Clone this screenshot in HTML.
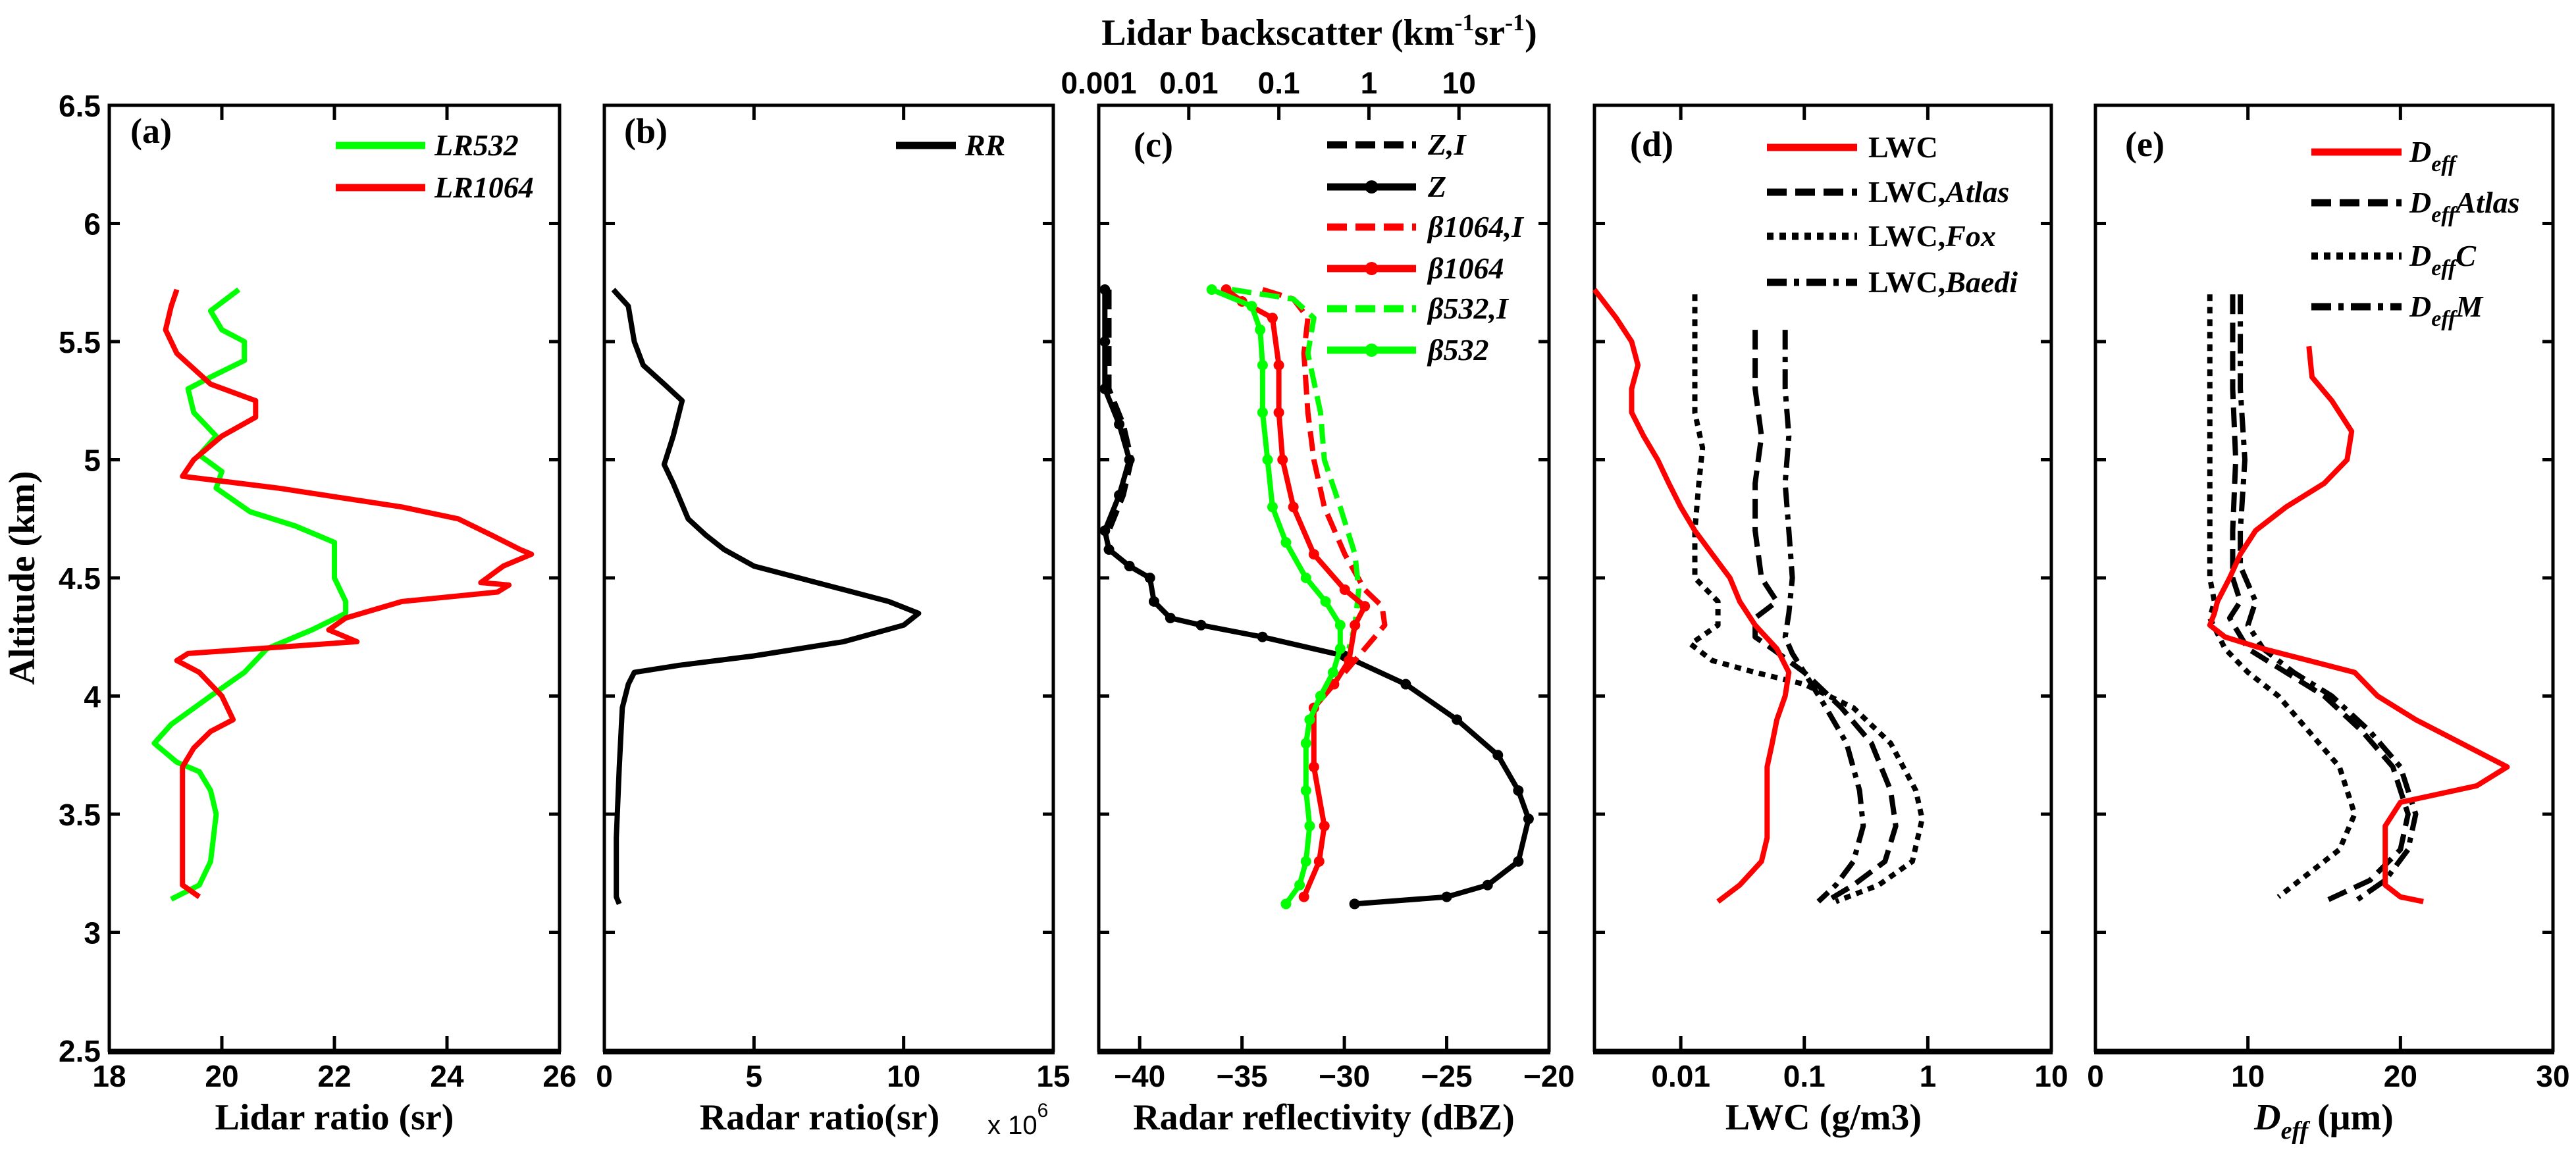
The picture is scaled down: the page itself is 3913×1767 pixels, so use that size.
<!DOCTYPE html>
<html><head><meta charset="utf-8">
<style>
html,body{margin:0;padding:0;background:#fff;}
svg{display:block;}
.tk{font-family:"Liberation Sans Narrow","Liberation Sans",sans-serif;font-weight:bold;font-size:46px;}
.ttl{font-family:"Liberation Serif",serif;font-weight:bold;font-size:56px;}
.lg{font-family:"Liberation Serif",serif;font-weight:bold;font-style:italic;font-size:46px;}
.lgn{font-family:"Liberation Serif",serif;font-weight:bold;font-size:46px;}
.pl{font-family:"Liberation Serif",serif;font-weight:bold;font-size:54px;}
</style></head>
<body>
<svg id="fig" width="3913" height="1767" viewBox="0 0 3913 1767" xmlns="http://www.w3.org/2000/svg"></svg>
<script>
// ---- data (altitude km) ----
const altA532=[5.72,5.63,5.55,5.5,5.42,5.35,5.3,5.2,5.1,5.02,4.95,4.88,4.78,4.72,4.65,4.5,4.4,4.35,4.28,4.2,4.1,4.0,3.88,3.8,3.72,3.68,3.6,3.5,3.3,3.2,3.14];
const lr532=[20.3,19.8,20.0,20.4,20.4,19.8,19.4,19.5,19.9,19.6,20.0,19.9,20.5,21.3,22.0,22.0,22.2,22.2,21.6,20.8,20.4,19.8,19.1,18.8,19.2,19.6,19.8,19.9,19.8,19.6,19.1];
const altA1064=[5.72,5.65,5.55,5.45,5.32,5.25,5.18,5.1,5.0,4.93,4.88,4.8,4.75,4.68,4.62,4.6,4.55,4.48,4.47,4.44,4.4,4.33,4.28,4.23,4.2,4.18,4.15,4.1,4.0,3.9,3.85,3.78,3.7,3.6,3.4,3.25,3.2,3.15];
const lr1064=[19.2,19.1,19.0,19.2,19.8,20.6,20.6,20.0,19.5,19.3,21.0,23.2,24.2,24.8,25.3,25.5,25.0,24.6,25.1,24.9,23.2,22.2,21.9,22.4,20.6,19.4,19.2,19.6,20.0,20.2,19.8,19.5,19.3,19.3,19.3,19.3,19.3,19.6];
const altRR=[5.72,5.65,5.5,5.4,5.32,5.25,5.1,4.98,4.9,4.75,4.68,4.62,4.55,4.5,4.45,4.4,4.35,4.3,4.23,4.17,4.13,4.1,4.05,3.95,3.7,3.4,3.15,3.12];
const rr=[0.3,0.8,1.0,1.3,2.0,2.6,2.3,2.0,2.3,2.8,3.4,4.0,5.0,6.5,8.0,9.5,10.5,10.0,8.0,5.0,2.5,1.0,0.8,0.6,0.5,0.4,0.4,0.5];
const altZ=[5.72,5.5,5.3,5.15,5.0,4.85,4.7,4.62,4.55,4.5,4.4,4.33,4.3,4.25,4.17,4.05,3.9,3.75,3.6,3.48,3.3,3.2,3.15,3.12];
const zdbz=[-41.7,-41.7,-41.7,-41,-40.5,-41,-41.7,-41.5,-40.5,-39.5,-39.3,-38.5,-37,-34,-30,-27,-24.5,-22.5,-21.5,-21,-21.5,-23,-25,-29.5];
const altZI=[5.72,5.5,5.3,5.15,5.0,4.85,4.7];
const zIdbz=[-41.5,-41.5,-41.5,-40.8,-40.4,-40.8,-41.5];
const altB532=[5.72,5.65,5.55,5.4,5.2,5.0,4.8,4.65,4.5,4.4,4.3,4.2,4.1,4.0,3.9,3.8,3.6,3.45,3.3,3.2,3.12];
const b532=[0.018,0.05,0.062,0.066,0.066,0.075,0.085,0.12,0.2,0.33,0.48,0.48,0.40,0.29,0.22,0.2,0.2,0.22,0.2,0.17,0.12];
const altB1064=[5.72,5.67,5.6,5.4,5.2,5.0,4.8,4.6,4.45,4.38,4.3,4.15,4.05,3.95,3.7,3.45,3.3,3.15];
const b1064=[0.026,0.039,0.085,0.1,0.1,0.11,0.145,0.245,0.54,0.9,0.7,0.6,0.41,0.245,0.245,0.32,0.28,0.19];
const altB1064I=[5.72,5.68,5.6,5.45,5.2,5.0,4.8,4.6,4.45,4.38,4.3,4.2,4.1];
const b1064I=[0.066,0.145,0.21,0.19,0.21,0.245,0.32,0.54,0.9,1.4,1.5,0.9,0.54];
const altB532I=[5.72,5.68,5.6,5.45,5.2,5.0,4.8,4.6,4.45,4.3,4.2];
const b532I=[0.03,0.145,0.245,0.21,0.29,0.32,0.48,0.7,0.77,0.7,0.6];
const altLWC=[5.72,5.6,5.5,5.4,5.3,5.2,5.1,5.0,4.9,4.8,4.7,4.6,4.5,4.4,4.3,4.2,4.1,4.0,3.9,3.8,3.7,3.6,3.5,3.4,3.3,3.2,3.13];
const lwc=[0.002,0.003,0.004,0.0045,0.004,0.004,0.005,0.0065,0.008,0.01,0.013,0.018,0.025,0.03,0.04,0.06,0.075,0.07,0.06,0.055,0.05,0.05,0.05,0.05,0.045,0.03,0.02];
const altFox=[5.7,5.4,5.2,5.05,4.9,4.7,4.5,4.4,4.3,4.22,4.15,4.1,4.05,3.95,3.8,3.6,3.48,3.3,3.2,3.13];
const lwcFox=[0.013,0.013,0.013,0.015,0.014,0.013,0.013,0.02,0.02,0.012,0.018,0.04,0.1,0.25,0.5,0.8,0.9,0.75,0.4,0.18];
const altAtlas=[5.55,5.3,5.1,4.9,4.7,4.5,4.4,4.33,4.25,4.2,4.1,3.95,3.8,3.6,3.45,3.3,3.2,3.13];
const lwcAtlas=[0.04,0.04,0.045,0.04,0.04,0.045,0.06,0.04,0.04,0.055,0.1,0.2,0.35,0.5,0.55,0.45,0.25,0.15];
const altBaedi=[5.55,5.3,5.1,4.9,4.7,4.5,4.35,4.25,4.18,4.1,3.95,3.8,3.6,3.45,3.3,3.2,3.13];
const lwcBaedi=[0.07,0.07,0.075,0.07,0.075,0.08,0.075,0.07,0.08,0.1,0.15,0.22,0.28,0.3,0.25,0.18,0.13];
const altDeff=[5.48,5.35,5.25,5.12,5.0,4.9,4.8,4.7,4.6,4.5,4.4,4.35,4.3,4.25,4.2,4.15,4.1,4.0,3.9,3.8,3.7,3.62,3.55,3.45,3.3,3.2,3.15,3.13];
const deff=[14,14.2,15.5,16.8,16.5,15,12.5,10.5,9.5,8.8,8,7.8,7.5,8.5,11,14,17,18.5,21,24,27,25,20,19,19,19,20,21.5];
const altDC=[5.7,5.3,5.0,4.7,4.5,4.4,4.33,4.2,4.1,4.0,3.85,3.7,3.5,3.35,3.25,3.15];
const deffC=[7.5,7.5,7.5,7.5,7.5,7.8,7.5,8.5,10,12,14,16,17,16,14,12];
const altDA=[5.7,5.3,5.0,4.7,4.5,4.4,4.33,4.2,4.1,4.0,3.85,3.7,3.5,3.35,3.22,3.13];
const deffAtlas=[9,9,9.2,9,9,9.5,8.8,10,12.5,15,17.5,19.5,20.5,20,18,15];
const altDM=[5.7,5.3,5.0,4.7,4.55,4.4,4.3,4.2,4.1,4.0,3.85,3.7,3.5,3.35,3.22,3.13];
const deffM=[9.5,9.5,9.8,9.5,9.5,10.5,10,11,13,15.5,18,20,21,20.5,19,17];
// tick labels
const altTicks=[6.5,6,5.5,5,4.5,4,3.5,3,2.5];
const ticksA=[18,20,22,24,26];
const ticksB=[0,5,10,15];
const ticksC=[-40,-35,-30,-25,-20];
const ticksCtop=[0.001,0.01,0.1,1,10];
const ticksD=[0.01,0.1,1,10];
const ticksE=[0,10,20,30];

const NS="http://www.w3.org/2000/svg";
const svg=document.getElementById('fig');
const Y0=160,Y1=1596;
function yA(a){return Y0+(6.5-a)/4*(Y1-Y0);}
function mk(tag,at,parent){const e=document.createElementNS(NS,tag);for(const k in at)e.setAttribute(k,at[k]);(parent||svg).appendChild(e);return e;}
function linScale(x0,x1,a,b){return v=>x0+(v-a)/(b-a)*(x1-x0);}
function logScale(x0,x1,a,b){return v=>x0+(Math.log10(v)-Math.log10(a))/(Math.log10(b)-Math.log10(a))*(x1-x0);}

const P={
 a:{x0:166,x1:850,s:linScale(166,850,18,26)},
 b:{x0:918,x1:1600,s:linScale(918,1600,0,15)},
 c:{x0:1669,x1:2353,s:linScale(1669,2353,-42,-20),st:logScale(1669,2353,0.001,100)},
 d:{x0:2422,x1:3116,s:logScale(2422,3116,0.002,10)},
 e:{x0:3183,x1:3878,s:linScale(3183,3878,0,30)}
};
const DASH={solid:null,dash:"30,13",dot:"10,9",dashdot:"30,11,8,11"};

function series(p,xs,alts,color,style,name,markers,sc){
  const f=sc||p.s;
  let d="";
  for(let i=0;i<xs.length;i++){d+=(i?"L":"M")+f(xs[i]).toFixed(1)+" "+yA(alts[i]).toFixed(1);}
  const g=mk('g',{});
  
  
  const at={d:d,fill:"none",stroke:color,"stroke-width":8,"stroke-linejoin":"round"};
  if(DASH[style])at["stroke-dasharray"]=DASH[style];
  mk('path',at,g);
  if(markers){for(let i=0;i<xs.length;i++){const c=mk('circle',{cx:f(xs[i]),cy:yA(alts[i]),r:8,fill:color},g);}}
}
function txt(x,y,s,cls,anchor,parent){const t=mk('text',{x:x,y:y,class:cls,"text-anchor":anchor||"middle"},parent);t.textContent=s;return t;}

// axes frames
for(const k in P){
  const p=P[k];
  const g=mk('g',{});
  
  
  mk('rect',{x:p.x0,y:Y0,width:p.x1-p.x0,height:Y1-Y0,fill:"none",stroke:"#000","stroke-width":5},g);
  mk('line',{x1:p.x0-2,x2:p.x1+2,y1:Y1+2,y2:Y1+2,stroke:"#000","stroke-width":8},g);
  for(const a of altTicks){const y=yA(a);
    mk('line',{x1:p.x0,x2:p.x0+16,y1:y,y2:y,stroke:"#000","stroke-width":5},g);
    mk('line',{x1:p.x1-16,x2:p.x1,y1:y,y2:y,stroke:"#000","stroke-width":5},g);}
}
function xticks(p,ticks,f,top,bottom,labelY,lab){
  const g=mk('g',{});
  
  
  for(const v of ticks){const x=f(v);
    if(bottom)mk('line',{x1:x,x2:x,y1:Y1,y2:Y1-22,stroke:"#000","stroke-width":5},g);
    if(top)mk('line',{x1:x,x2:x,y1:Y0,y2:Y0+22,stroke:"#000","stroke-width":5},g);
    if(labelY)txt(x,labelY,lab?lab(v):String(v),"tk","middle",g);}
}
const neg=v=>String(v).replace('-','\u2212');
xticks(P.a,ticksA,P.a.s,true,true,1651);
xticks(P.b,ticksB,P.b.s,true,true,1651);
xticks(P.c,ticksC,P.c.s,false,true,1651,neg);
xticks(P.c,ticksCtop,P.c.st,true,false,142);
xticks(P.d,ticksD,P.d.s,true,true,1651);
xticks(P.e,ticksE,P.e.s,true,true,1651);
// y tick labels
{const g=mk('g',{});
 for(const a of altTicks)txt(153,yA(a)+17,String(a),"tk","end",g);}

// titles
function title(x,y,s,name,extra){const t=txt(x,y,s,"ttl","middle");return t;}
title(508,1716,"Lidar ratio (sr)","x-axis-title-a");
title(1245,1716,"Radar ratio(sr)","x-axis-title-b");
title(2011,1716,"Radar reflectivity (dBZ)","x-axis-title-c");
title(2770,1716,"LWC (g/m3)","x-axis-title-d");
{const t=title(3530,1716,"","x-axis-title-e");
 t.innerHTML='<tspan font-style="italic">D</tspan><tspan font-style="italic" font-size="38" dy="14">eff</tspan><tspan dy="-14"> (\u03bcm)</tspan>';}
{const t=title(2004,68,"","top-axis-title-c");
 t.innerHTML='Lidar backscatter (km<tspan font-size="36" dy="-22">-1</tspan><tspan dy="22">sr</tspan><tspan font-size="36" dy="-22">-1</tspan><tspan dy="22">)</tspan>';}
{const t=title(52,878,"Altitude (km)","y-axis-title");t.setAttribute('transform','rotate(-90 52 878)');t.setAttribute('y',878);}
{const t=mk('text',{x:1500,y:1723,"font-family":"Liberation Sans Narrow, Liberation Sans, sans-serif","font-size":40});
 
 t.innerHTML='x 10<tspan font-size="30" dy="-26">6</tspan>';}

// panel labels
const plab=[["(a)",198,217],["(b)",948,217],["(c)",1722,238],["(d)",2476,237],["(e)",3228,237]];
for(const [s,x,y] of plab){const t=txt(x,y,s,"pl","start");}

// series
series(P.a,lr532,altA532,"#00ff00","solid","lr532-line");
series(P.a,lr1064,altA1064,"#ff0000","solid","lr1064-line");
series(P.b,rr,altRR,"#000","solid","rr-line");
series(P.c,zIdbz,altZI,"#000","dash","z-i-line");
series(P.c,zdbz,altZ,"#000","solid","z-line",true);
series(P.c,b1064I,altB1064I,"#ff0000","dash","beta1064-i-line",false,P.c.st);
series(P.c,b532I,altB532I,"#00ff00","dash","beta532-i-line",false,P.c.st);
series(P.c,b1064,altB1064,"#ff0000","solid","beta1064-line",true,P.c.st);
series(P.c,b532,altB532,"#00ff00","solid","beta532-line",true,P.c.st);
series(P.d,lwcFox,altFox,"#000","dot","lwc-fox-line");
series(P.d,lwcAtlas,altAtlas,"#000","dash","lwc-atlas-line");
series(P.d,lwcBaedi,altBaedi,"#000","dashdot","lwc-baedi-line");
series(P.d,lwc,altLWC,"#ff0000","solid","lwc-line");
series(P.e,deffC,altDC,"#000","dot","deff-c-line");
series(P.e,deffAtlas,altDA,"#000","dash","deff-atlas-line");
series(P.e,deffM,altDM,"#000","dashdot","deff-m-line");
series(P.e,deff,altDeff,"#ff0000","solid","deff-line");

// legends
function legend(x0,x1,tx,y,color,style,label,name,marker,cls){
  const g=mk('g',{});
  
  
  const at={x1:x0,x2:x1,y1:y,y2:y,stroke:color,"stroke-width":11};
  if(DASH[style])at["stroke-dasharray"]=DASH[style];
  mk('line',at,g);
  if(marker)mk('circle',{cx:(x0+x1)/2,cy:y,r:10,fill:color},g);
  const t=mk('text',{x:tx,y:y+15,class:cls||"lg"},g);t.innerHTML=label;
}
legend(510,646,660,221,"#00ff00","solid","LR532","legend-lr532");
legend(510,646,660,285,"#ff0000","solid","LR1064","legend-lr1064");
legend(1361,1452,1466,221,"#000","solid","RR","legend-rr");
const cL=[["Z,I","#000","dash",false,220],["Z","#000","solid",true,284],["\u03b21064,I","#ff0000","dash",false,345],["\u03b21064","#ff0000","solid",true,408],["\u03b2532,I","#00ff00","dash",false,469],["\u03b2532","#00ff00","solid",true,532]];
for(const [l,c,s,m,y] of cL)legend(2016,2151,2169,y,c,s,l,"legend-"+l.replace(/[^A-Za-z0-9]/g,''),m);
const dL=[['LWC',"#ff0000","solid",224],['LWC,<tspan font-style="italic">Atlas</tspan>',"#000","dash",292],['LWC,<tspan font-style="italic">Fox</tspan>',"#000","dot",359],['LWC,<tspan font-style="italic">Baedi</tspan>',"#000","dashdot",429]];
dL.forEach(([l,c,s,y],i)=>legend(2684,2821,2838,y,c,s,l,"legend-lwc-"+i,false,"lgn"));
const eL=[['D<tspan font-size="34" dy="14">eff</tspan>',"#ff0000","solid",231],['D<tspan font-size="34" dy="14">eff</tspan><tspan dy="-14">Atlas</tspan>',"#000","dash",308],['D<tspan font-size="34" dy="14">eff</tspan><tspan dy="-14">C</tspan>',"#000","dot",389],['D<tspan font-size="34" dy="14">eff</tspan><tspan dy="-14">M</tspan>',"#000","dashdot",466]];
eL.forEach(([l,c,s,y],i)=>legend(3511,3648,3660,y,c,s,l,"legend-deff-"+i));
</script>
</body></html>
